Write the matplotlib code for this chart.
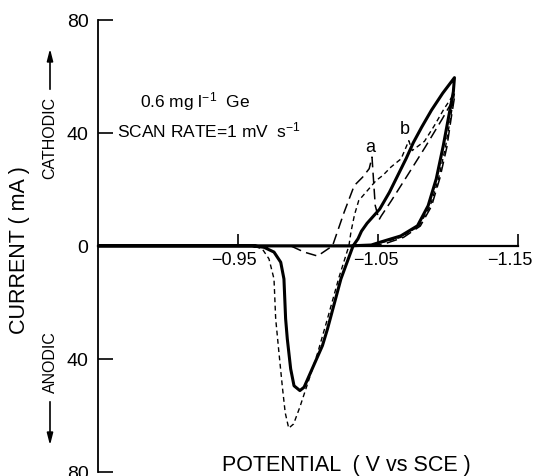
import matplotlib
matplotlib.use("Agg")
import matplotlib.pyplot as plt
from matplotlib.transforms import ScaledTranslation

plt.rcParams['font.family'] = ['Liberation Sans', 'DejaVu Sans']
plt.rcParams['mathtext.fontset'] = 'custom'
plt.rcParams['mathtext.rm'] = 'Liberation Sans'
plt.rcParams['mathtext.it'] = 'Liberation Sans'
plt.rcParams['mathtext.bf'] = 'Liberation Sans'

# ---- data (potential V vs SCE, current mA; cathodic positive) ----
solid_v = [-0.85, -0.95, -1.00, -1.03, -1.045, -1.052, -1.066, -1.078, -1.0856, -1.0914,
           -1.0964, -1.100, -1.1036, -1.1044,
           -1.096, -1.088, -1.081, -1.075, -1.070, -1.065, -1.058, -1.051, -1.0465,
           -1.042, -1.038, -1.0355, -1.032, -1.0233, -1.0137, -1.0101, -1.0018, -0.997,
           -0.994, -0.9898, -0.9874, -0.985, -0.9838, -0.9826, -0.9803, -0.9755, -0.9683,
           -0.960, -0.85]
solid_i = [0, 0, 0, 0, 0.3, 1.4, 3.5, 7.1, 14.2, 23.7,
           35.4, 45, 54.5, 59.5,
           54, 48, 42, 36.5, 31, 26, 19, 13, 10.5,
           8.0, 5.2, 2.5, 0, -11.7, -29.4, -35.3, -44.6, -50,
           -51.2, -49.5, -43.5, -32.9, -25.8, -11.7, -5.8, -2.2, -0.5,
           0, 0]

curve_a_v = [-0.85, -1.045, -1.055, -1.068, -1.080, -1.088, -1.094, -1.099, -1.102, -1.1044,
             -1.0958, -1.0836, -1.0713, -1.0591, -1.052, -1.0505, -1.0478, -1.0455,
             -1.0435, -1.0388, -1.0328, -1.0256, -1.0173, -1.0066, -0.997, -0.9874, -0.85]
curve_a_i = [0, 0, 0.8, 3, 7, 14, 24, 35, 45, 52.5,
             45, 35, 25.3, 15.8, 10.5, 9.2, 14.3, 31.4,
             27.3, 24.3, 21.3, 11.9, 0, -3.6, -2.2, 0, 0]

curve_b_v = [-0.85, -1.04, -1.050, -1.066, -1.079, -1.087, -1.093, -1.098, -1.1015, -1.1044,
             -1.097, -1.090, -1.083, -1.0742, -1.0718, -1.0663, -1.0591, -1.0532, -1.0484,
             -1.043, -1.036, -1.033, -1.0305, -1.029, -1.022, -1.013, -1.0066, -1.000,
             -0.994, -0.9895, -0.9860, -0.9835, -0.9815, -0.979, -0.9767, -0.9755,
             -0.9719, -0.967, -0.960, -0.85]
curve_b_i = [0, 0, 0.8, 3.0, 7, 14, 23.7, 35, 45, 54,
             48.5, 42.5, 37, 33.7, 37.2, 30.8, 27.9, 24.9, 23.1,
             20, 16, 11, 5, 0, -11, -27, -38, -48,
             -57, -63, -64.5, -59, -50, -37.6, -25.8, -11.7,
             -4.6, -1, 0, 0]

yticks = [-80, -40, 0, 40, 80]
ytick_labels = ['80', '40', '0', '40', '80']
xticks = [-0.95, -1.05, -1.15]
xtick_labels = ['\u22120.95', '\u22121.05', '\u22121.15']

W, H = 533, 477
fig = plt.figure(figsize=(W / 100, H / 100), dpi=100)
x0, x1 = 98.3, 518.3
ytop, ybot = 20.7, 473.0
ax = fig.add_axes([x0 / W, 1 - ybot / H, (x1 - x0) / W, (ybot - ytop) / H])

ax.plot(solid_v, solid_i, color='black', lw=2.2, solid_joinstyle='round', zorder=4)
ax.plot(curve_a_v, curve_a_i, color='black', lw=1.1, dashes=(7, 3.5), zorder=3)
ax.plot(curve_b_v, curve_b_i, color='black', lw=1.0, dashes=(3.5, 2.5), zorder=3)

ax.set_xlim(-0.85, -1.15)
ax.set_ylim(-80, 80)

for s in ['top', 'right']:
    ax.spines[s].set_visible(False)
ax.spines['bottom'].set_position(('data', 0))
ax.spines['bottom'].set_bounds(-0.85, -1.15)
ax.spines['bottom'].set_linewidth(1.6)
ax.spines['left'].set_linewidth(1.3)

ax.set_yticks(yticks)
ax.set_yticklabels(ytick_labels)
ax.set_xticks(xticks)
ax.set_xticklabels(xtick_labels)
ax.tick_params(axis='y', direction='in', length=11, width=1.2, labelsize=14, pad=7)
ax.tick_params(axis='x', direction='in', length=9, width=1.2, labelsize=13, pad=4)

shifts = [-4, -2, -8]
for lab, sh in zip(ax.get_xticklabels(), shifts):
    lab.set_transform(lab.get_transform() + ScaledTranslation(sh / 100, 0, fig.dpi_scale_trans))

def fx(px):
    return (px - x0) / (x1 - x0)

def fy(py):
    return (ybot - py) / (ybot - ytop)

ax.text(fx(20), fy(250), 'CURRENT ( mA )', rotation=90, ha='center', va='center',
        fontsize=15.5, transform=ax.transAxes)
ax.text(fx(346), fy(466), 'POTENTIAL  ( V vs SCE )', ha='center', va='center',
        fontsize=15.5, transform=ax.transAxes, clip_on=False)

ax.text(fx(50), fy(138), 'CATHODIC', rotation=90, ha='center', va='center',
        fontsize=11.5, transform=ax.transAxes)
ax.annotate('', xy=(fx(50), fy(47)), xytext=(fx(50), fy(93)),
            xycoords='axes fraction', textcoords='axes fraction',
            arrowprops=dict(arrowstyle='-|>,head_length=0.7,head_width=0.18', color='black', lw=1.2))
ax.text(fx(50), fy(362), 'ANODIC', rotation=90, ha='center', va='center',
        fontsize=11.5, transform=ax.transAxes)
ax.annotate('', xy=(fx(50), fy(449)), xytext=(fx(50), fy(400)),
            xycoords='axes fraction', textcoords='axes fraction',
            arrowprops=dict(arrowstyle='-|>,head_length=0.7,head_width=0.18', color='black', lw=1.2))

ax.text(fx(195), fy(102), '0.6 mg l$^{-1}$  Ge', ha='center', va='center', fontsize=12.5,
        transform=ax.transAxes)
ax.text(fx(117), fy(130), 'SCAN RATE=1 mV  s$^{-1}$', ha='left', va='center', fontsize=12.5,
        transform=ax.transAxes)
ax.text(fx(370), fy(148), 'a', ha='center', va='center', fontsize=13, transform=ax.transAxes)
ax.text(fx(405), fy(130), 'b', ha='center', va='center', fontsize=13, transform=ax.transAxes)

fig.savefig('out.png', dpi=100)
